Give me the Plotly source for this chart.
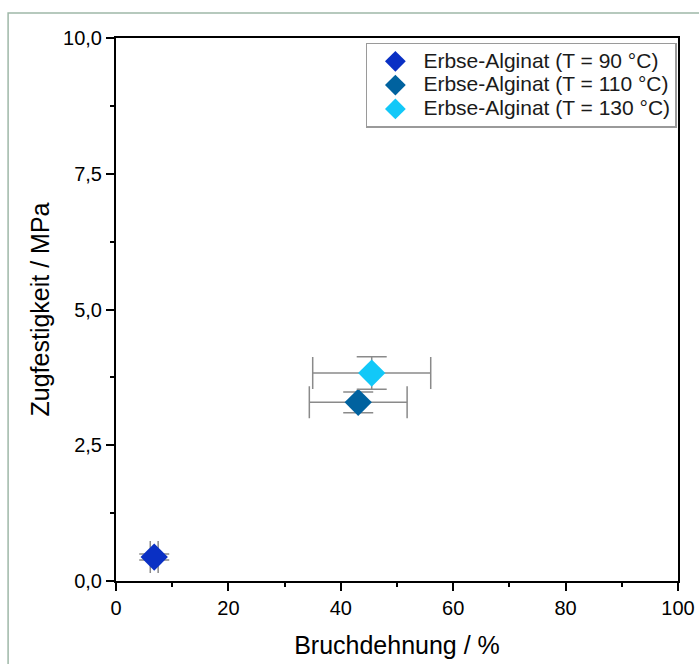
import plotly.graph_objects as go

names = ["Erbse-Alginat (T = 90 °C)", "Erbse-Alginat (T = 110 °C)", "Erbse-Alginat (T = 130 °C)"]
colors = ["#0a30c4", "#00629f", "#12c8f8"]
bruchdehnung = [6.8, 43.1, 45.5]
bruchdehnung_err = [0.7, 8.7, 10.5]
zugfestigkeit = [0.44, 3.29, 3.83]
zugfestigkeit_err = [0.055, 0.19, 0.3]

FONT = "Liberation Sans, Arial"

fig = go.Figure()
for i in range(3):
    fig.add_trace(go.Scatter(
        x=[bruchdehnung[i]], y=[zugfestigkeit[i]], mode="markers",
        name='<span style="font-size:21px">' + names[i] + '</span>',
        marker=dict(symbol="diamond", size=21, color=colors[i], line=dict(width=0)),
        error_x=dict(type="data", array=[bruchdehnung_err[i]], color="#8a8a8a", thickness=1.5, width=16),
        error_y=dict(type="data", array=[zugfestigkeit_err[i]], color="#8a8a8a", thickness=1.5, width=15),
    ))

axis_common = dict(showline=True, linecolor="black", linewidth=2, mirror=True, ticks="outside",
                   tickcolor="black", tickwidth=1.5, ticklen=8, showgrid=False, zeroline=False,
                   automargin=False,
                   tickfont=dict(family=FONT, size=20, color="black"))
fig.update_xaxes(range=[0, 100], tickvals=[0, 20, 40, 60, 80, 100],
                 minor=dict(tickvals=[10, 30, 50, 70, 90], ticklen=4, tickcolor="black", ticks="outside", tickwidth=1.5),
                 title=dict(text="Bruchdehnung / %", font=dict(family=FONT, size=25, color="black"), standoff=18),
                 **axis_common)
fig.update_yaxes(range=[0, 10], tickvals=[0, 2.5, 5, 7.5, 10], tickformat=".1f",
                 minor=dict(tickvals=[1.25, 3.75, 6.25, 8.75], ticklen=4, tickcolor="black", ticks="outside", tickwidth=1.5),
                 title=dict(text="Zugfestigkeit / MPa", font=dict(family=FONT, size=25, color="black"), standoff=6),
                 **axis_common)

fig.add_shape(type="rect", xref="paper", yref="paper", x0=-0.192, x1=1.2, y0=-0.3, y1=1.046,
              line=dict(color="#9fb8a8", width=1.5), fillcolor="rgba(0,0,0,0)", layer="below")

fig.update_layout(
    width=699, height=664, separators=",.",
    margin=dict(l=116, r=21, t=38, b=83, autoexpand=False),
    paper_bgcolor="white", plot_bgcolor="white",
    showlegend=True,
    legend=dict(x=0.998, y=0.991, xanchor="right", yanchor="top", bgcolor="white",
                bordercolor="#9a9a9a", borderwidth=1.5,
                font=dict(family=FONT, size=16, color="#1a1a1a"),
                tracegroupgap=0, itemsizing="trace", itemwidth=46),
)
fig.write_html("out.html", config={"displayModeBar": False},
               post_script="document.body.style.margin='0';document.body.style.overflow='hidden';")
